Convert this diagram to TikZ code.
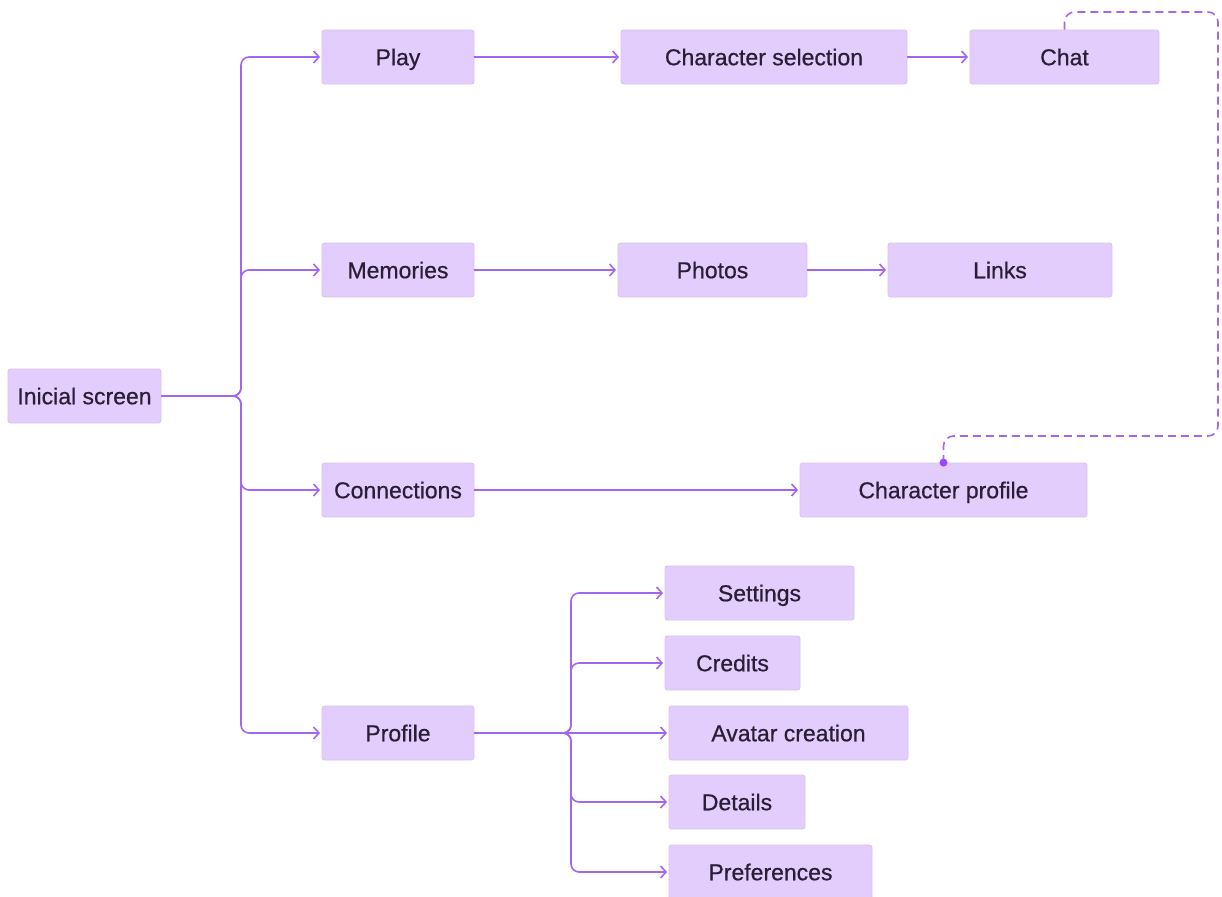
\documentclass[tikz,border=0pt]{standalone}
\usepackage{fontspec}
\setmainfont{Liberation Sans}
\newfontfamily\labelfont{Liberation Sans}[FakeBold=0.6]
\usetikzlibrary{arrows.meta}
\definecolor{boxfill}{HTML}{E3CDFC}
\definecolor{boxline}{HTML}{D6C2EE}
\definecolor{linkcol}{HTML}{A366F0}
\definecolor{dotcol}{HTML}{9747FF}
\definecolor{txtcol}{HTML}{2A1D36}
\tikzset{
  x=1pt, y=-1pt,
  screen/.style={rectangle, rounded corners=2.5pt, fill=boxfill, draw=boxline,
    line width=0.8pt, minimum height=54pt, inner sep=0pt, text=txtcol,
    text height=16.5pt, text depth=0pt,
    font=\labelfont\fontsize{23}{27}\selectfont},
  link/.style={draw=linkcol, line width=1.6pt, rounded corners=8pt,
    -{Straight Barb[length=5.5pt,width=12pt]}, shorten >=1.5pt},
  backlink/.style={draw=linkcol, line width=1.6pt, rounded corners=10pt,
    dash pattern=on 8pt off 5pt}
}
\begin{document}
\begin{tikzpicture}
\useasboundingbox (0,0) rectangle (1222,896);

% screens
\node[screen, minimum width=153pt] (ini) at (84.5,396) {Inicial screen};
\node[screen, minimum width=152pt] (play) at (398,57) {Play};
\node[screen, minimum width=286pt] (charsel) at (764,57) {Character selection};
\node[screen, minimum width=189pt] (chat) at (1064.5,57) {Chat};
\node[screen, minimum width=152pt] (mem) at (398,270) {Memories};
\node[screen, minimum width=189pt] (photos) at (712.5,270) {Photos};
\node[screen, minimum width=224pt] (links) at (1000,270) {Links};
\node[screen, minimum width=152pt] (conn) at (398,490) {Connections};
\node[screen, minimum width=287pt] (cprof) at (943.5,490) {Character profile};
\node[screen, minimum width=152pt] (prof) at (398,733) {Profile};
\node[screen, minimum width=189pt] (settings) at (759.5,593) {Settings};
\node[screen, minimum width=135pt] (credits) at (732.5,663) {Credits};
\node[screen, minimum width=239pt] (avatar) at (788.5,733) {Avatar creation};
\node[screen, minimum width=136pt] (details) at (737,802) {Details};
\node[screen, minimum width=203pt] (prefs) at (770.5,872) {Preferences};

% branch points
\coordinate (trunk) at (241,396);
\coordinate (pj) at (571,733);
\coordinate (loopA) at (1064.5,12);
\coordinate (loopB) at (1218,436);

% main menu
\draw[link] (ini.east) -- (trunk) |- (play.west);
\draw[link] (ini.east) -- (trunk) |- (mem.west);
\draw[link] (ini.east) -- (trunk) |- (conn.west);
\draw[link] (ini.east) -- (trunk) |- (prof.west);

% sub flows
\draw[link] (play.east) -- (charsel.west);
\draw[link] (charsel.east) -- (chat.west);
\draw[link] (mem.east) -- (photos.west);
\draw[link] (photos.east) -- (links.west);
\draw[link] (conn.east) -- (cprof.west);

% profile options
\draw[link] (prof.east) -- (pj) |- (settings.west);
\draw[link] (prof.east) -- (pj) |- (credits.west);
\draw[link] (prof.east) -- (avatar.west);
\draw[link] (prof.east) -- (pj) |- (details.west);
\draw[link] (prof.east) -- (pj) |- (prefs.west);

% chat back to character profile
\draw[backlink] (chat.north) -- (loopA) -| (loopB) -| (cprof.north);
\fill[dotcol] (cprof.north) circle (4pt);
\end{tikzpicture}
\end{document}
